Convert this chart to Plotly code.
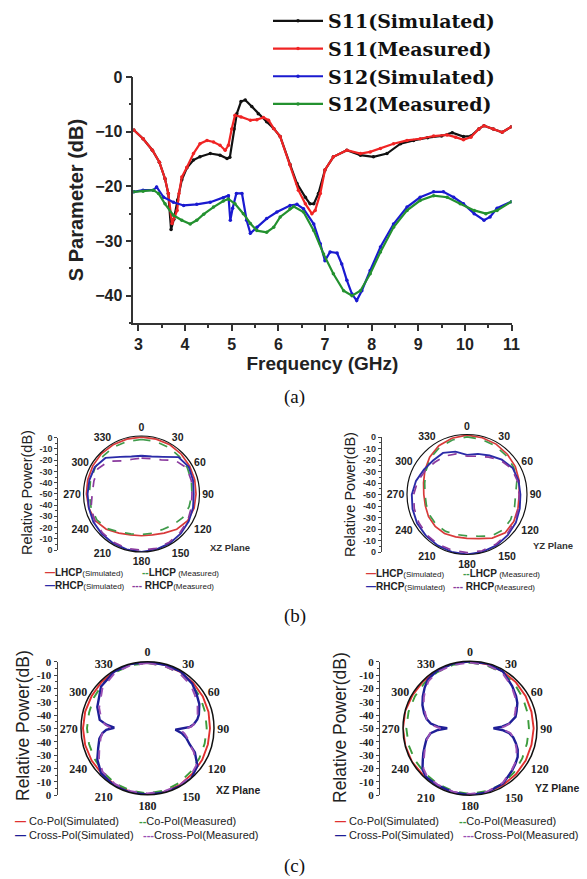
import plotly.graph_objects as go

W, H = 587, 879
def X(px): return px / W
def Y(py): return 1 - py / H

SANS = "Liberation Sans, Arial, sans-serif"
SERIF = "Liberation Serif, Times New Roman, serif"
WIDE_SERIF = "DejaVu Serif, Liberation Serif, serif"

# ---------------- (a) S-parameters ----------------
s11_sim_f = [2.9, 3.1, 3.3, 3.45, 3.57, 3.64, 3.7, 3.76, 3.84, 3.93, 4.04, 4.18, 4.32, 4.54, 4.75, 4.9, 4.96,
             5.05, 5.11, 5.2, 5.29, 5.43, 5.57, 5.75, 5.9, 6.04, 6.25, 6.4, 6.58, 6.68, 6.76, 6.86, 7.0, 7.18,
             7.47, 7.76, 8.04, 8.33, 8.62, 8.9, 9.2, 9.5, 9.73, 9.97, 10.13, 10.3, 10.41, 10.61, 10.8, 11.0]
s11_sim_db = [-9.7, -11.3, -13.4, -15.6, -18.6, -21.3, -27.9, -26, -22.5, -18.8, -16.6, -15.2, -14.6, -14.0,
              -14.3, -14.9, -14.7, -9.5, -6.7, -4.5, -4.2, -5.4, -6.7, -8.2, -9.4, -10.9, -16, -19.5, -22,
              -23.2, -23.2, -21.3, -17, -14.6, -13.4, -14.3, -14.6, -14, -12.2, -11.6, -11.1, -10.8, -10.2,
              -10.9, -10.8, -9.5, -8.9, -9.5, -10.1, -9.1]

s11_meas_f = [2.9, 3.1, 3.3, 3.45, 3.57, 3.64, 3.72, 3.78, 3.83, 3.87, 3.93, 4.04, 4.18, 4.32, 4.47, 4.61, 4.75,
              4.86, 4.93, 5.0, 5.07, 5.2, 5.4, 5.54, 5.68, 5.79, 5.9, 6.04, 6.25, 6.43, 6.58, 6.72, 6.79, 6.9,
              7.0, 7.18, 7.47, 7.76, 7.97, 8.19, 8.47, 8.76, 9.04, 9.33, 9.62, 9.8, 9.97, 10.13, 10.3, 10.41,
              10.61, 10.8, 11.0]
s11_meas_db = [-9.7, -11.3, -13.4, -15.6, -18.6, -21.3, -26.8, -25.5, -24.4, -21.3, -18.3, -16.5, -14, -12.2,
               -11.6, -11.9, -12.5, -13.4, -12.5, -9.5, -7, -7.3, -7.9, -7.8, -7.4, -7.9, -9.4, -10.9, -16,
               -20.7, -23.2, -25, -24.4, -21.3, -17, -14.6, -13.4, -14, -13.7, -13.1, -12.2, -11.6, -11.3,
               -10.8, -10.6, -11.0, -11.5, -11, -9.5, -8.9, -9.5, -10.1, -9.1]

s12_sim_f = [2.9, 3.1, 3.32, 3.39, 3.54, 3.75, 3.97, 4.25, 4.54, 4.82, 4.93, 4.97, 5.02, 5.1, 5.22, 5.32, 5.4,
             5.54, 5.75, 5.97, 6.25, 6.4, 6.54, 6.76, 6.9, 7.0, 7.11, 7.26, 7.36, 7.47, 7.58, 7.68, 7.79, 7.97,
             8.19, 8.47, 8.76, 9.04, 9.33, 9.54, 9.76, 9.97, 10.2, 10.41, 10.54, 10.69, 11.0]
s12_sim_db = [-21, -20.7, -20.7, -20.1, -22, -22.9, -23.5, -23.3, -22.9, -22.1, -21.7, -26.2, -24, -21.3,
              -21.3, -26.2, -28.6, -27.5, -25.9, -24.7, -23.5, -23.3, -24.1, -26.9, -30.5, -33.6, -32, -32.2,
              -34.2, -37.2, -39.7, -40.9, -39.1, -35.4, -31.1, -26.9, -23.8, -22, -21, -21, -22, -23.2, -25,
              -26.2, -25.6, -24, -22.8]

s12_meas_f = [2.9, 3.1, 3.32, 3.43, 3.57, 3.75, 3.93, 4.11, 4.25, 4.4, 4.61, 4.82, 4.93, 5.07, 5.25, 5.4, 5.54,
              5.75, 5.9, 6.04, 6.25, 6.33, 6.54, 6.76, 6.97, 7.18, 7.4, 7.58, 7.76, 7.97, 8.19, 8.47, 8.76,
              9.04, 9.33, 9.62, 9.9, 10.2, 10.45, 10.69, 11.0]
s12_meas_db = [-21, -20.9, -20.7, -21.3, -23.2, -25.3, -26.2, -26.9, -26.2, -25.1, -23.8, -22.7, -22.3, -23.2,
               -25, -26.8, -28.1, -28.4, -27.5, -25.6, -24.1, -23.7, -24.7, -28.1, -32.4, -36, -39.1, -40,
               -39.1, -36, -32, -27.5, -24.4, -22.6, -21.7, -22, -23.2, -24.4, -25, -24.4, -22.8]

freq_ticks = [3, 4, 5, 6, 7, 8, 9, 10, 11]
sparam_ticks = [0, -10, -20, -30, -40]

# ---------------- polar patterns ----------------
theta15 = [0, 15, 30, 45, 60, 75, 90, 105, 120, 135, 150, 165, 180, 195, 210, 225, 240, 255, 270, 285, 300,
           315, 330, 345, 360]

# (b) XZ plane
lhcp_sim_xz = [-1, -1, -1, -1.5, -2, -2.5, -3, -3, -4, -7, -11, -13.5, -14, -13.5, -11, -7, -4, -3, -2.5, -2,
               -1.5, -1, -1, -1, -1]
lhcp_meas_xz = [-3, -3, -3.5, -4, -4.5, -5.5, -6.5, -7.5, -9, -12, -14.5, -15, -15, -14.5, -12, -8, -5.5, -5,
                -5, -4.5, -4, -3.5, -3, -3, -3]
rhcp_sim_xz = [-17, -16.5, -13, -5, -3, -4, -5, -4, -3, -2, -1, -0.5, 0, -0.5, -1, -1.5, -2, -3, -3.5, -3.5,
               -3.5, -6, -13, -16.5, -17]
rhcp_meas_xz = [-19, -18.5, -16, -9, -5, -5.5, -6.5, -5.5, -4, -3, -2, -1.5, -1.5, -1.5, -2, -2.5, -3.5, -5,
                -7.5, -7.5, -6.5, -10, -17, -19, -19]

# (b) YZ plane
lhcp_sim_yz = [-0.5, -1, -1.5, -2.5, -3.5, -5, -6.5, -6, -5, -5, -8, -12, -13.5, -13.5, -12.5, -12.5, -13, -14,
               -14, -12.5, -9.5, -6, -3, -1.5, -0.5]
lhcp_meas_yz = [-2, -2.5, -3, -4, -5, -7, -9.5, -9, -8, -8, -10, -14, -15.5, -15.5, -14.5, -14, -14.5, -15,
                -15, -13.5, -10.5, -7, -4.5, -3, -2]
rhcp_sim_yz = [-17, -15, -12.5, -9, -6, -5.5, -5.5, -4.5, -3, -2, -1, -0.5, 0, -0.5, -1, -1.5, -2, -3, -4, -6,
               -8.5, -10, -10, -13, -17]
rhcp_meas_yz = [-18, -17, -14, -10, -7, -6.5, -6.5, -5.5, -4, -3, -2, -1.5, -1.5, -2, -2, -2.5, -3.5, -4.5,
                -5.5, -7.5, -10, -12, -13, -15, -18]

# (c) XZ plane
copol_sim_xz = [0, -0.5, -1, -1.5, -2, -2.5, -3, -3, -2.5, -2, -1, -0.5, 0, -0.5, -1, -1.5, -1.5, -1.5, -1.5,
                -1.5, -1.5, -1, -0.5, 0, 0]
copol_meas_xz = [-1, -1.5, -2, -3, -4, -5, -5.5, -5.5, -5, -4, -2.5, -1.5, -1, -1.5, -2, -3, -4, -4.5, -4.5,
                 -4.5, -3.5, -2.5, -1.5, -1, -1]
theta_xp_xz = [0, 15, 30, 45, 55, 65, 75, 80, 85, 88, 93, 98, 104, 111, 117, 127, 139, 150, 165, 180, 195, 210,
               226, 238, 248, 258, 264, 268, 271, 275, 280, 293, 312, 330, 345, 360]
xpol_sim_xz = [0, -0.5, -0.5, -2.5, -5, -7, -10, -12, -15, -18, -29, -24, -20, -16, -10, -3, 0, 0, 0, 0, 0, 0,
               -1.5, -5.5, -10, -13, -16, -19, -25, -19, -13.5, -9, -3, -0.5, 0, 0]
xpol_meas_xz = [-1, -1.5, -2, -4, -6.5, -8.5, -11, -13, -15, -17, -25, -22, -19, -16, -11, -4, -1.5, -1, -1,
                -1, -1, -1.5, -3, -7, -11, -14, -16, -18, -22, -18, -15, -10.5, -4.5, -1.5, -1, -1]

# (c) YZ plane
copol_sim_yz = [0, -0.5, -1, -1.5, -2, -2.5, -2.5, -2.5, -2, -1.5, -1, -0.5, 0, 0, -0.5, -0.5, 0, 0, 0, 0,
                -0.5, -0.5, -0.5, 0, 0]
copol_meas_yz = [-1, -1.5, -2, -3, -4.5, -5.5, -6, -6, -5, -3.5, -2, -1.5, -1, -1.5, -2, -2.5, -2.5, -2.5,
                 -2.5, -2.5, -2.5, -2, -1.5, -1, -1]
theta_xp_yz = [0, 15, 30, 45, 55, 62, 70, 76, 83, 87, 90, 93, 97, 102, 108, 114, 121, 128, 135, 149, 165, 180,
               195, 210, 222, 229, 236, 242, 248, 256, 263, 267, 270, 273, 277, 282, 288, 296, 304, 312, 319,
               330, 345, 360]
xpol_sim_yz = [0, 0, -1, -5.5, -8, -10, -13, -15, -20.5, -26, -32.5, -26, -20.5, -17, -14, -11, -8.5, -7, -5.5,
               -2, -0.5, 0, -0.5, -1, -1, -3, -7.5, -10.5, -13.5, -16.5, -20.5, -26, -33, -26, -20.5, -17, -14,
               -10.5, -7.5, -4.5, -2, -0.5, 0, 0]
xpol_meas_yz = [-1, -1, -2, -6, -9, -11, -14, -16, -20, -24, -28, -24, -19.5, -17, -14.5, -12, -9.5, -7.5, -6,
                -2.5, -1, -1, -1, -1.5, -2, -4, -8.5, -11.5, -14, -17, -20, -24, -28, -24, -20, -17, -15, -11.5,
                -8.5, -5.5, -3, -1.5, -1, -1]

angle_ticks = [0, 30, 60, 90, 120, 150, 180, 210, 240, 270, 300, 330]
angle_labels = ["0", "30", "60", "90", "120", "150", "180", "210", "240", "270", "300", "330"]
rel_tickvals = [50, 40, 30, 20, 10, 0, -10, -20, -30, -40, -50]
rel_ticktext = ["0", "-10", "-20", "-30", "-40", "-50", "-40", "-30", "-20", "-10", "0"]

fig = go.Figure()

# ---- (a) traces ----
top = [("S11(Simulated)", s11_sim_f, s11_sim_db, "#111111"),
       ("S11(Measured)", s11_meas_f, s11_meas_db, "#f02424"),
       ("S12(Simulated)", s12_sim_f, s12_sim_db, "#1a1ad0"),
       ("S12(Measured)", s12_meas_f, s12_meas_db, "#23912f")]
for name, f, v, c in top:
    fig.add_trace(go.Scatter(x=f, y=v, name=name, mode="lines+markers",
                             line=dict(color=c, width=2.2),
                             marker=dict(size=3.5, color=c, symbol="circle"),
                             xaxis="x", yaxis="y"))

# ---- polar traces ----
panels = [
    ("polar", [(theta15, lhcp_sim_xz, "#d83a3a", "solid", 1.7), (theta15, lhcp_meas_xz, "#3f9a4a", "dash", 1.7),
               (theta15, rhcp_sim_xz, "#2b2ba8", "solid", 1.9), (theta15, rhcp_meas_xz, "#8a3a9e", "dash", 1.7)]),
    ("polar2", [(theta15, lhcp_sim_yz, "#d83a3a", "solid", 1.7), (theta15, lhcp_meas_yz, "#3f9a4a", "dash", 1.7),
                (theta15, rhcp_sim_yz, "#2b2ba8", "solid", 1.9), (theta15, rhcp_meas_yz, "#8a3a9e", "dash", 1.7)]),
    ("polar3", [(theta15, copol_sim_xz, "#e03030", "solid", 1.9), (theta15, copol_meas_xz, "#3c9c3c", "dash", 1.9),
                (theta_xp_xz, xpol_sim_xz, "#1e1e96", "solid", 2.4),
                (theta_xp_xz, xpol_meas_xz, "#9a50b4", "dash", 1.9)]),
    ("polar4", [(theta15, copol_sim_yz, "#e03030", "solid", 1.9), (theta15, copol_meas_yz, "#3c9c3c", "dash", 1.9),
                (theta_xp_yz, xpol_sim_yz, "#1e1e96", "solid", 2.4),
                (theta_xp_yz, xpol_meas_yz, "#9a50b4", "dash", 1.9)]),
]
for sub, series in panels:
    for th, r, c, d, w in series:
        fig.add_trace(go.Scatterpolar(theta=th, r=r, mode="lines", subplot=sub, showlegend=False,
                                      line=dict(color=c, width=w, dash=d), hoverinfo="skip"))

def polar_layout(cx, cy, rad, tickfont, lw):
    return dict(domain=dict(x=[X(cx - rad), X(cx + rad)], y=[Y(cy + rad), Y(cy - rad)]),
                bgcolor="white",
                radialaxis=dict(range=[-50, 0], visible=False, showgrid=False),
                angularaxis=dict(rotation=90, direction="clockwise", tickmode="array",
                                 tickvals=angle_ticks, ticktext=angle_labels, showgrid=False,
                                 linecolor="#111", linewidth=lw, ticks="", tickfont=tickfont))

bfont = dict(family=SANS, size=10.5, color="#222", weight="bold")
cfont = dict(family=SERIF, size=12, color="#222", weight="bold")

layout = dict(
    width=W, height=H, autosize=False, margin=dict(l=0, r=0, t=0, b=0),
    paper_bgcolor="white", plot_bgcolor="white", showlegend=True,
    xaxis=dict(domain=[X(133.3), X(511.5)], range=[2.89, 11.0], tickmode="array", tickvals=freq_ticks,
               ticks="outside", ticklen=6, tickwidth=1.5, tickcolor="#333", showline=True, linewidth=1.6,
               linecolor="#333", showgrid=False, zeroline=False, anchor="y",
               tickfont=dict(family=SANS, size=16, color="#222", weight="bold"),
               minor=dict(ticks="outside", ticklen=3, dtick=0.5, tickcolor="#333", showgrid=False),
               title=dict(text="Frequency (GHz)", standoff=4,
                          font=dict(family=SANS, size=19, color="#222", weight="bold")),
               automargin=False),
    yaxis=dict(domain=[Y(323), Y(77)], range=[-45, 0], tickmode="array", tickvals=sparam_ticks,
               ticks="outside", ticklen=6, tickwidth=1.5, tickcolor="#333", showline=True, linewidth=1.6,
               linecolor="#333", showgrid=False, zeroline=False, anchor="x",
               tickfont=dict(family=SANS, size=16, color="#222", weight="bold"),
               minor=dict(ticks="outside", ticklen=3, dtick=5, tickcolor="#333", showgrid=False),
               title=dict(text="S Parameter (dB)", standoff=6,
                          font=dict(family=SANS, size=20, color="#222", weight="bold")),
               automargin=False),
    legend=dict(x=X(268), y=Y(2), xanchor="left", yanchor="top", bgcolor="rgba(0,0,0,0)",
                font=dict(family=WIDE_SERIF, size=19, color="#111", weight="bold"), itemwidth=50,
                tracegroupgap=0),
    polar=polar_layout(141.5, 494, 58, bfont, 1.2),
    polar2=polar_layout(467, 494.5, 60, bfont, 1.2),
    polar3=polar_layout(147.5, 728.3, 66.5, cfont, 1.5),
    polar4=polar_layout(470, 728.3, 67, cfont, 1.5),
)

# fake "Relative Power(dB)" rulers next to each polar plot
rulers = [(58.3, 437.7, 550, dict(family=SANS, size=9, color="#333", weight="bold")),
          (381.7, 437, 552, dict(family=SANS, size=9, color="#333", weight="bold")),
          (57.5, 661.7, 795, dict(family=SERIF, size=11, color="#222", weight="bold")),
          (380, 661.7, 795, dict(family=SERIF, size=11, color="#222", weight="bold"))]
for i, (lx, yt, yb, tf) in enumerate(rulers, start=2):
    layout[f"xaxis{i}"] = dict(domain=[X(lx), X(lx) + 0.01], range=[0, 1], visible=False, fixedrange=True)
    layout[f"yaxis{i}"] = dict(domain=[Y(yb), Y(yt)], range=[-50, 50], anchor=f"x{i}", tickmode="array",
                               tickvals=rel_tickvals, ticktext=rel_ticktext, ticks="outside", ticklen=3,
                               showline=True, linecolor="#444", linewidth=1, showgrid=False, zeroline=False,
                               tickfont=tf, tickcolor="#444", automargin=False,
                               minor=dict(ticks="outside", ticklen=2, dtick=5, tickcolor="#444", showgrid=False))
    fig.add_trace(go.Scatter(x=[None], y=[None], xaxis=f"x{i}", yaxis=f"y{i}", showlegend=False,
                             hoverinfo="skip"))

fig.update_layout(**layout)

ann = []
def text(x, y, t, font, xanchor="center", angle=0):
    ann.append(dict(x=X(x), y=Y(y), xref="paper", yref="paper", text=t, showarrow=False, font=font,
                    xanchor=xanchor, yanchor="middle", textangle=angle))

# captions
for lbl, yy in [("(a)", 397), ("(b)", 616), ("(c)", 866)]:
    text(295, yy, lbl, dict(family=SERIF, size=19, color="#111"))

# ruler titles
text(27, 493, "Relative Power(dB)", dict(family=SANS, size=14.5, color="#222"), angle=-90)
text(350, 495, "Relative Power(dB)", dict(family=SANS, size=14.5, color="#222"), angle=-90)
text(23, 726, "Relative Power(dB)", dict(family=SANS, size=17.5, color="#222"), angle=-90)
text(340, 728, "Relative Power(dB)", dict(family=SANS, size=17.5, color="#222"), angle=-90)

# plane labels
text(230, 547, "XZ Plane", dict(family=SANS, size=9.5, color="#333", weight="bold"))
text(553, 545, "YZ Plane", dict(family=SANS, size=9.5, color="#333", weight="bold"))
text(238, 790, "XZ Plane", dict(family=SANS, size=10.5, color="#222", weight="bold"))
text(557, 788, "YZ Plane", dict(family=SANS, size=10.5, color="#222", weight="bold"))

# polar legends
def bkey(color, key, main, sub):
    return (f'<span style="color:{color}"><b>{key}</b></span><b>{main}</b>'
            f'<span style="font-size:8px">{sub}</span>')
bl = dict(family=SANS, size=10, color="#222")
for ox, oy in [(0, 1), (321, 2.5)]:
    text(43 + ox, 571 + oy, bkey("#d83a3a", "—", "LHCP", "(Simulated)"), bl, xanchor="left")
    text(140 + ox, 571 + oy, bkey("#3f9a4a", "--", "LHCP", " (Measured)"), bl, xanchor="left")
    text(43 + ox, 584 + oy, bkey("#2b2ba8", "—", "RHCP", "(Simulated)"), bl, xanchor="left")
    text(130 + ox, 584 + oy, bkey("#8a3a9e", "---", " RHCP", "(Measured)"), bl, xanchor="left")

cl = dict(family=SANS, size=11, color="#222")
for ox in [0, 320]:
    text(13 + ox, 821, '<span style="color:#e03030"><b>—</b></span> Co-Pol(Simulated)', cl, xanchor="left")
    text(137 + ox, 821, '<span style="color:#3c9c3c"><b>--</b></span>Co-Pol(Measured)', cl, xanchor="left")
    text(13 + ox, 835, '<span style="color:#1e1e96"><b>—</b></span> Cross-Pol(Simulated)', cl, xanchor="left")
    text(141 + ox, 835, '<span style="color:#9a50b4"><b>---</b></span>Cross-Pol(Measured)', cl, xanchor="left")

fig.update_layout(annotations=ann)
fig.write_html("out.html", config={"displayModeBar": False},
               post_script="document.body.style.margin='0';document.body.style.overflow='hidden';")
